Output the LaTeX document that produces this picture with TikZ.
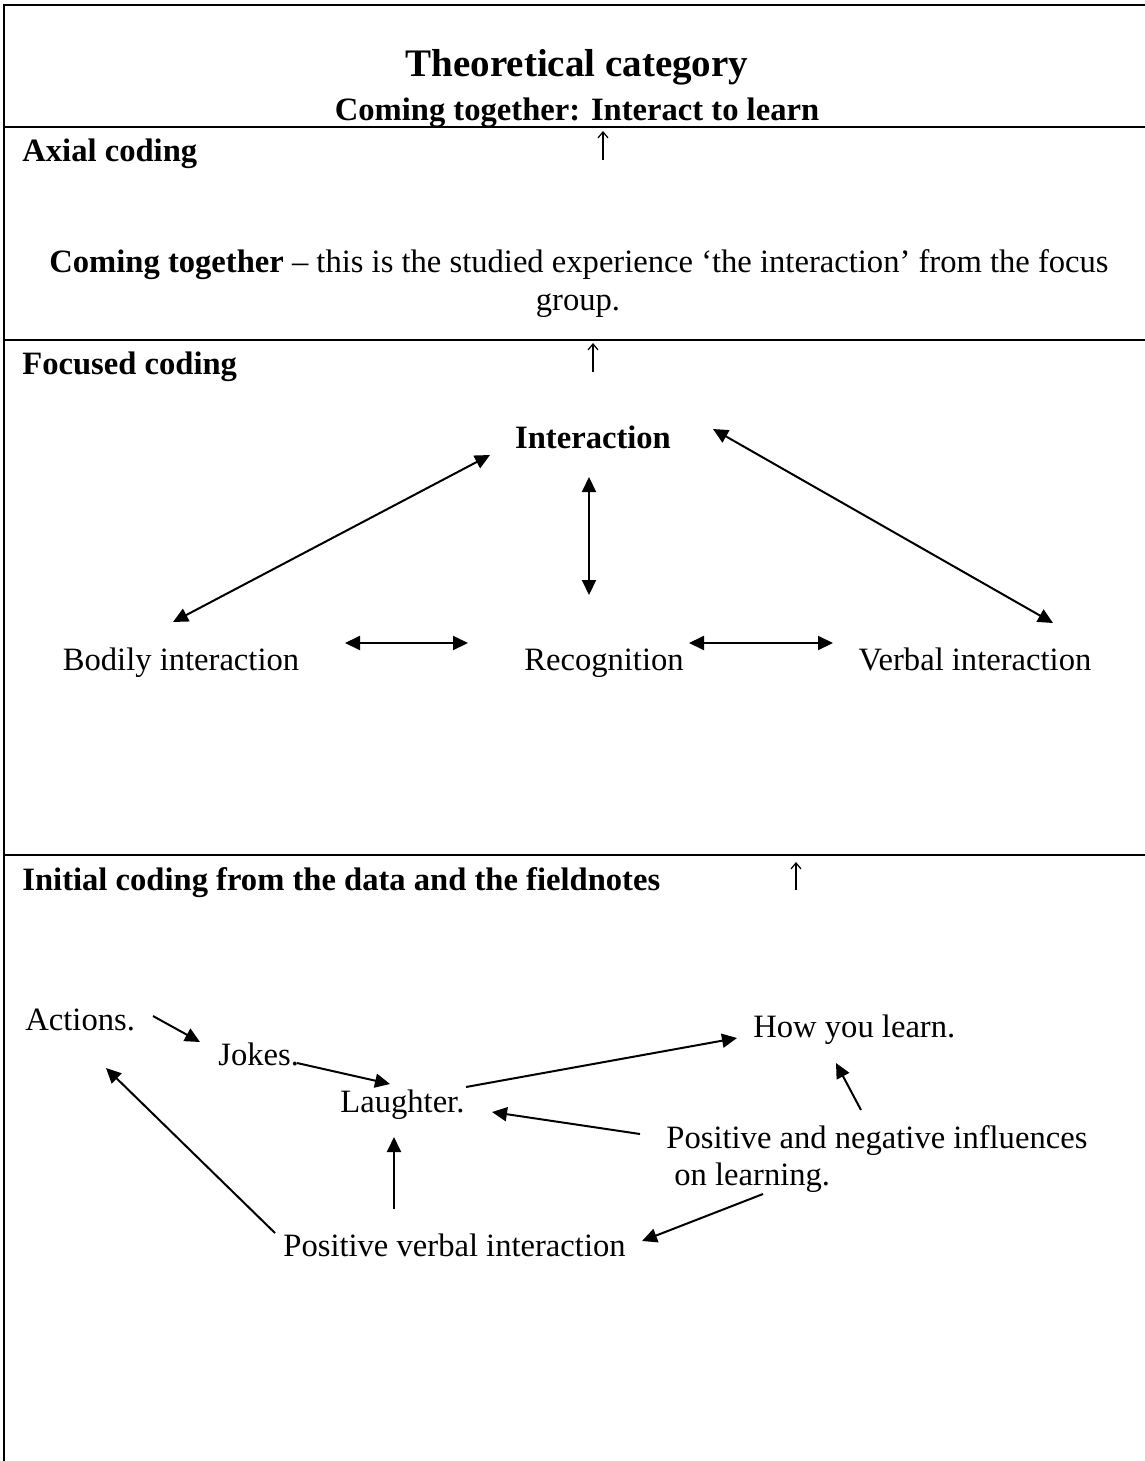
\documentclass[tikz,border=0pt]{standalone}
\usepackage{fontspec}
\setmainfont{Liberation Serif}
\usetikzlibrary{arrows.meta}
\begin{document}
\begin{tikzpicture}[x=0.5pt,y=-0.5pt,
  rule/.style={line width=1pt},
  txt/.style={inner sep=0pt, font=\fontsize{16.3pt}{19pt}\selectfont},
  hdr/.style={inner sep=0pt, font=\fontsize{16.3pt}{19pt}\selectfont\bfseries},
  bigtitle/.style={inner sep=0pt, font=\fontsize{19.5pt}{23pt}\selectfont\bfseries},
  link/.style={line width=1pt, -{Triangle[length=7.5pt,width=7pt]}},
  twoway/.style={line width=1pt, {Triangle[length=7.5pt,width=7pt]}-{Triangle[length=7.5pt,width=7pt]}},
  uparr/.style={line width=0.6pt, -{Straight Barb[length=3pt,width=5pt]}}]

% page
\fill[white] (0,0) rectangle (1145,1461);
\useasboundingbox (0,0) rectangle (1145,1461);

% table frame and row rules
\draw[rule] (4,1461) -- (4,5) -- (1145,5);
\draw[rule] (4,127) -- (1145,127);
\draw[rule] (4,340) -- (1145,340);
\draw[rule] (4,855) -- (1145,855);

% header row
\node[bigtitle, anchor=base] (title) at (577,76) {Theoretical category};
\node[hdr, anchor=base] (sub) at (577,120) {Coming together: Interact to learn};

% axial coding row
\node[hdr, anchor=base west] (axial) at (22,162) {Axial coding};
\coordinate (up1) at (603,160);
\draw[uparr] (up1) -- ++(0,-29);
\node[txt, anchor=base] (para1) at (579,272) {\textbf{Coming together} – this is the studied experience ‘the interaction’ from the focus};
\node[txt, anchor=base] (para2) at (578,310) {group.};

% focused coding row
\node[hdr, anchor=base west] (focused) at (22,374) {Focused coding};
\coordinate (up2) at (593,372);
\draw[uparr] (up2) -- ++(0,-29);

\node[hdr, anchor=base] (inter) at (593,448) {Interaction};
\node[txt, anchor=base] (bodily) at (181,670) {Bodily interaction};
\node[txt, anchor=base] (recog) at (604,670) {Recognition};
\node[txt, anchor=base] (verbal) at (975,670) {Verbal interaction};

\draw[twoway] ([shift={(-103,7)}]inter.base) -- ([shift={(-8,-48)}]bodily.base);
\draw[twoway] ([shift={(120,-19)}]inter.base) -- ([shift={(78,-47)}]verbal.base);
\draw[twoway] ([shift={(-4,29)}]inter.base) -- ([shift={(-15,-75)}]recog.base);
\draw[twoway] ([shift={(164,-27)}]bodily.base) -- ([shift={(-136,-27)}]recog.base);
\draw[twoway] ([shift={(85,-27)}]recog.base) -- ([shift={(-142,-27)}]verbal.base);

% initial coding row
\node[hdr, anchor=base west] (initial) at (22,890) {Initial coding from the data and the fieldnotes};
\coordinate (up3) at (796,890);
\draw[uparr] (up3) -- ++(0,-28);

\node[txt, anchor=base west] (actions) at (25,1030) {Actions.};
\node[txt, anchor=base west] (jokes) at (218,1065) {Jokes.};
\node[txt, anchor=base west] (laughter) at (340,1112) {Laughter.};
\node[txt, anchor=base west] (how) at (753,1037) {How you learn.};
\node[txt, anchor=base west] (infl) at (666,1148) {Positive and negative influences};
\node[txt, anchor=base west] (infl2) at (674,1185) {on learning.};
\node[txt, anchor=base west] (posverb) at (283,1256) {Positive verbal interaction};

\draw[link] ([shift={(128,-14)}]actions.base west) -- ([shift={(-18,-23)}]jokes.base west);
\draw[link] ([shift={(79,-2)}]jokes.base west) -- ([shift={(50,-28)}]laughter.base west);
\draw[link] ([shift={(126,-25)}]laughter.base west) -- ([shift={(-16,1)}]how.base west);
\draw[link] ([shift={(-26,-14)}]infl.base west) -- ([shift={(152,0)}]laughter.base west);
\draw[link] ([shift={(195,-38)}]infl.base west) -- ([shift={(83,26)}]how.base west);
\draw[link] ([shift={(111,-47)}]posverb.base west) -- ([shift={(54,25)}]laughter.base west);
\draw[link] ([shift={(-8,-23)}]posverb.base west) -- ([shift={(81,38)}]actions.base west);
\draw[link] ([shift={(89,9)}]infl2.base west) -- ([shift={(359,-15)}]posverb.base west);
\end{tikzpicture}
\end{document}
